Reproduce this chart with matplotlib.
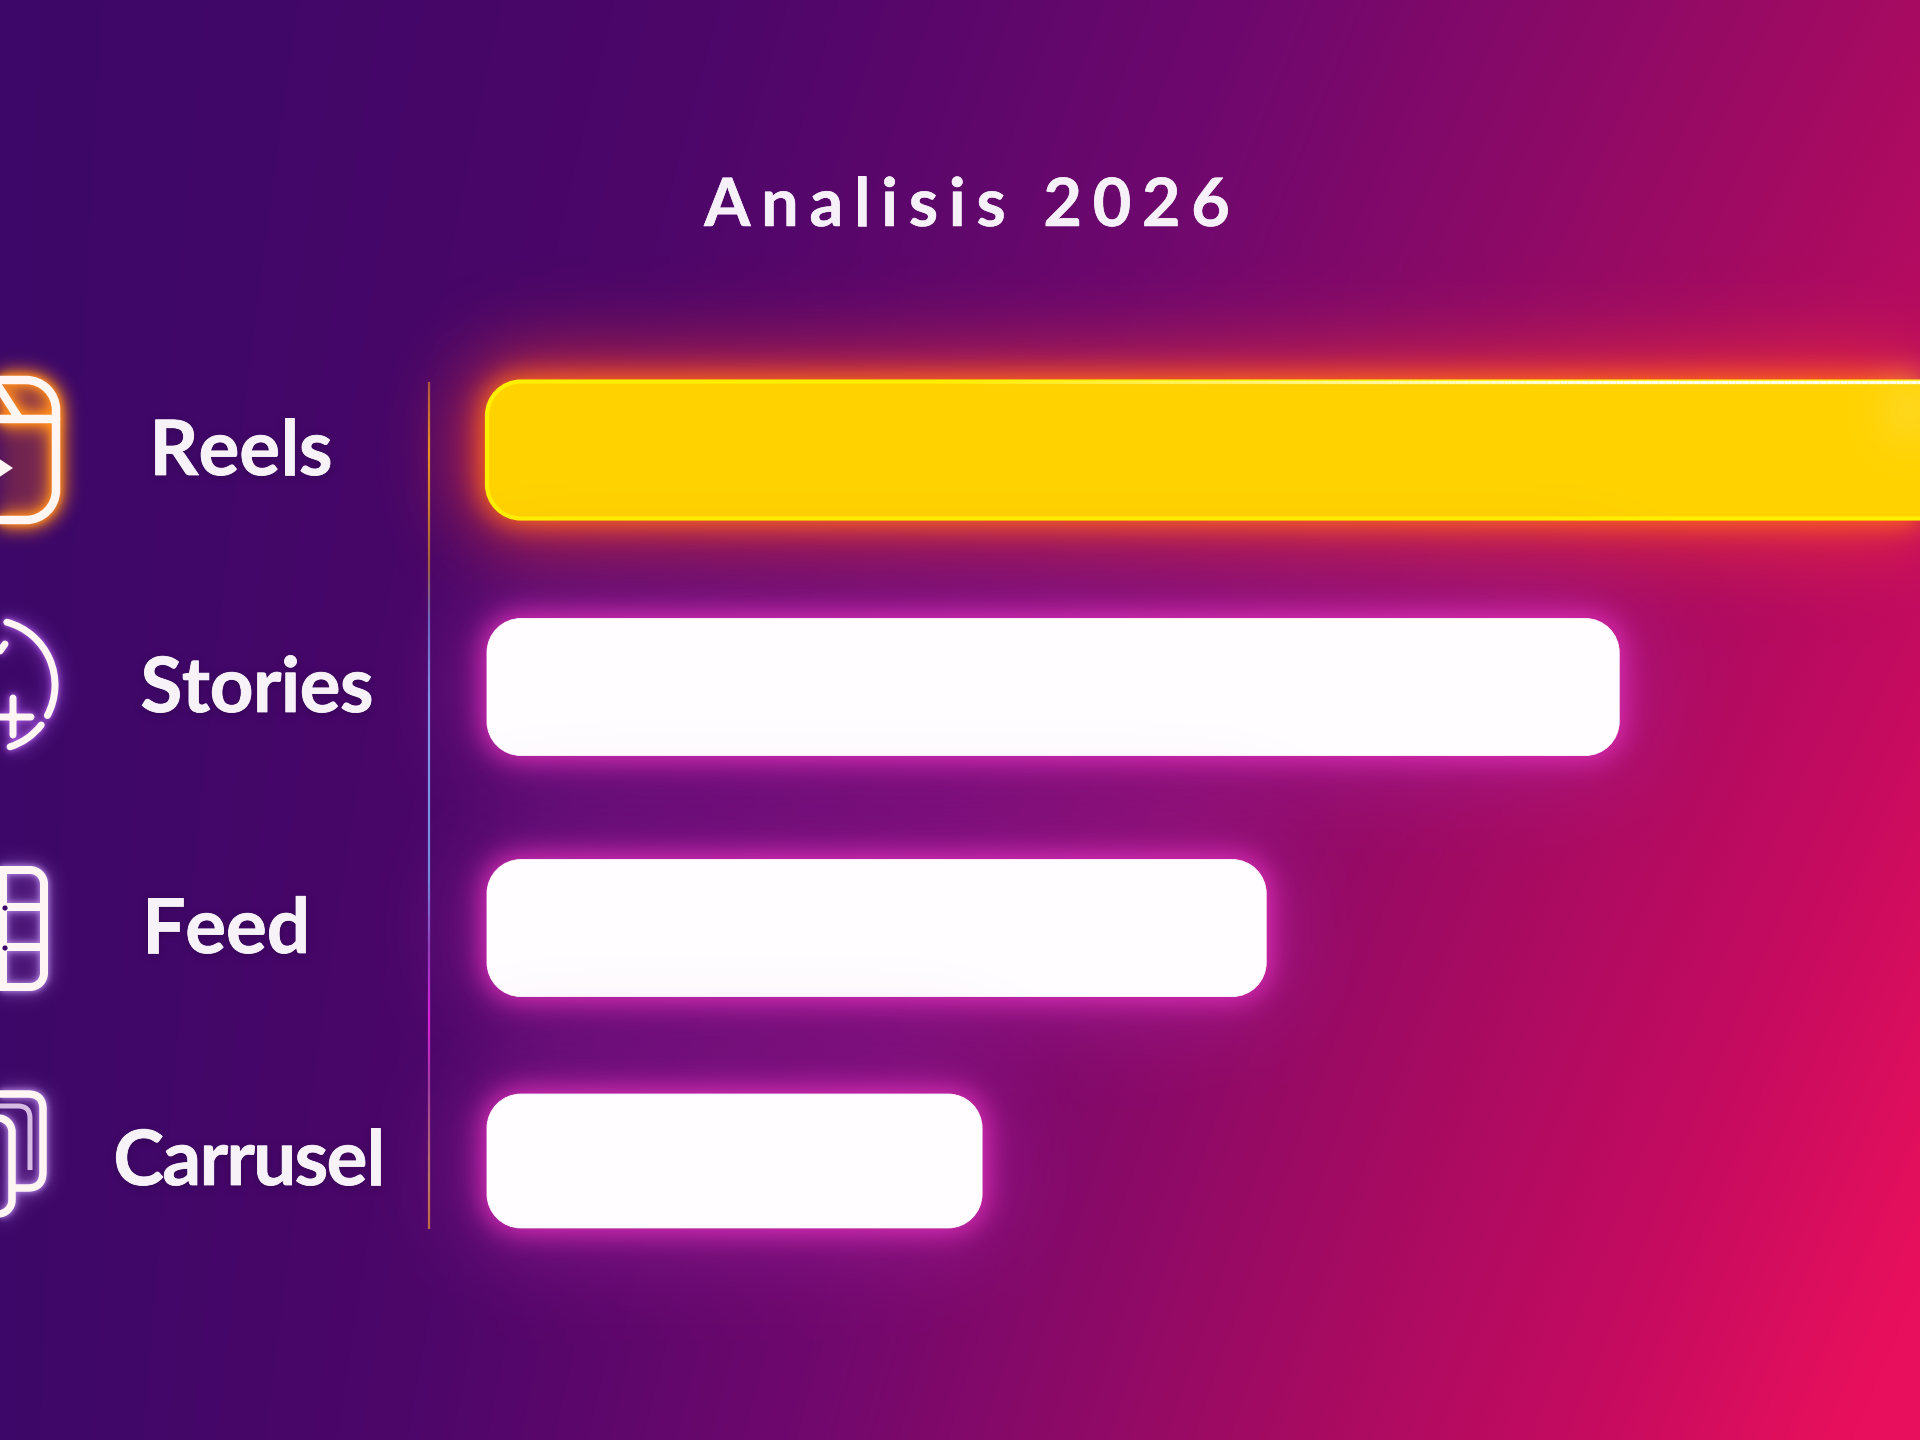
import numpy as np
import matplotlib
matplotlib.use("Agg")
import matplotlib.artist as martist
import matplotlib.pyplot as plt
from matplotlib.collections import LineCollection
from matplotlib.colors import LinearSegmentedColormap, to_rgb
from matplotlib.patches import Circle, Ellipse, FancyBboxPatch, PathPatch, Polygon
from matplotlib.path import Path
from matplotlib.patheffects import Normal, PathEffectRenderer, withStroke
from matplotlib.text import Text
from matplotlib.transforms import Affine2D

# Chart content
title_text = "Analisis 2026"
categories = ["Reels", "Stories", "Feed", "Carrusel"]
values = [105.0, 78.9, 54.3, 34.5]
rows = [0.0, 1.0, 2.017, 3.0]
bar_heights = [0.578, 0.578, 0.578, 0.565]

# Layout of the category labels (canvas pixels)
label_x = [241, 257, 226, 249]
label_base = [475, 712, 953, 1185]
label_tracking = [0.0, -0.5, 0.0, -1.6]

W, H = 1920, 1440
PX_PER_UNIT = 14.35
PX_PER_ROW = 237.0
ZERO_PX = 487.0
ROW0_PX = 450.0


def gaussian(a, sigma):
    fy = np.fft.fftfreq(a.shape[0])[:, None]
    fx = np.fft.rfftfreq(a.shape[1])
    g = np.exp(-2 * (np.pi * sigma) ** 2 * (fx ** 2 + fy ** 2))
    return np.fft.irfft2(np.fft.rfft2(a) * g, s=a.shape)


def glow(sigma, color, gain=1.0):
    rgb = to_rgb(color)

    def apply(img, dpi):
        pad = int(3 * sigma) + 2
        a = np.clip(gaussian(np.pad(img[..., 3], pad), sigma) * gain, 0, 1)
        out = np.zeros(a.shape + (4,))
        out[..., :3] = rgb
        out[..., 3] = a
        return out, -pad, -pad

    return apply


class TrackedText(Text):
    """A single text object drawn with extra space between its letters."""

    def __init__(self, *args, tracking=0.0, **kwargs):
        super().__init__(*args, **kwargs)
        self.tracking = tracking

    @martist.allow_rasterization
    def draw(self, renderer):
        if not self.get_visible():
            return
        s, fp = self.get_text(), self.get_fontproperties()
        effects = self.get_path_effects() or [Normal()]
        rr = PathEffectRenderer(effects, renderer)
        width = lambda chunk: renderer.get_text_width_height_descent(chunk, fp, False)[0]
        total = width(s) + self.tracking * (len(s) - 1)
        x0, y0 = self.get_transform().transform(self.get_position())
        start = x0 - total / 2
        gc = renderer.new_gc()
        gc.set_foreground(self.get_color())
        gc.set_alpha(self.get_alpha())
        gc.set_antialiased(True)
        for i, ch in enumerate(s):
            if ch != " ":
                xi = start + width(s[:i + 1]) - width(ch) + self.tracking * i
                rr.draw_text(gc, xi, renderer.height - y0, ch, fp, 0)
        gc.restore()
        self.stale = False


def round_box(r):
    """Box outline whose corners are true quarter circles of radius r."""
    k = 0.5523 * r

    def build(x0, y0, w, h, mutation_size=1.0):
        x1, y1 = x0 + w, y0 + h
        verts = [(x0 + r, y0), (x1 - r, y0),
                 (x1 - r + k, y0), (x1, y0 + r - k), (x1, y0 + r), (x1, y1 - r),
                 (x1, y1 - r + k), (x1 - r + k, y1), (x1 - r, y1), (x0 + r, y1),
                 (x0 + r - k, y1), (x0, y1 - r + k), (x0, y1 - r), (x0, y0 + r),
                 (x0, y0 + r - k), (x0 + r - k, y0), (x0 + r, y0), (x0 + r, y0)]
        codes = [Path.MOVETO, Path.LINETO] + [Path.CURVE4] * 3 + [Path.LINETO] \
            + [Path.CURVE4] * 3 + [Path.LINETO] + [Path.CURVE4] * 3 + [Path.LINETO] \
            + [Path.CURVE4] * 3 + [Path.CLOSEPOLY]
        return Path(verts, codes)

    return build


fig = plt.figure(figsize=(W / 100, H / 100), dpi=100)

# Canvas-pixel axes: background, icons, divider and labels
base = fig.add_axes([0, 0, 1, 1], zorder=1)
base.set_xlim(0, W)
base.set_ylim(H, 0)
base.axis("off")

# Diagonal purple-to-crimson backdrop
yy, xx = np.mgrid[0:H:360j, 0:W:480j]
u, v = xx / W, yy / H
t = np.clip(u ** (1.25 - 0.2 * v) * (0.68 + 0.34 * v) + 0.02, 0, 1)
backdrop = LinearSegmentedColormap.from_list(
    "backdrop",
    [(0.0, "#3b0868"), (0.22, "#4d0669"), (0.42, "#6f086e"),
     (0.68, "#a30b62"), (0.85, "#c40b60"), (1.0, "#e8105c")], N=1024,
)
base.imshow(backdrop(t), extent=(0, W, H, 0), aspect="auto", zorder=0,
            interpolation="bicubic")

# Gradient divider between labels and bars
div_y = np.linspace(382, 1229, 300)
div_stops = [(382, "#a85a40"), (450, "#e8a020"), (560, "#a06040"),
             (620, "#6a6ac0"), (700, "#80a0f0"), (880, "#7090e0"),
             (950, "#9040c0"), (1020, "#e020e0"), (1090, "#a040a0"),
             (1180, "#c08060"), (1229, "#c07040")]
div_cmap = LinearSegmentedColormap.from_list(
    "divider", [((p - 382) / 847, c) for p, c in div_stops])
segs = np.stack([np.column_stack([np.full(299, 429.0), div_y[:-1]]),
                 np.column_stack([np.full(299, 429.0), div_y[1:]])], axis=1)
divider = LineCollection(segs, cmap=div_cmap, linewidths=1.6, zorder=3)
divider.set_array(np.linspace(0, 1, 299))
base.add_collection(divider)


# Icon geometry
def rrect(x0, y0, x1, y1, r):
    return round_box(r)(x0, y0, x1 - x0, y1 - y0)


def seg(*pts):
    codes = [Path.MOVETO] + [Path.LINETO] * (len(pts) - 1)
    return Path(pts, codes)


def arc(cx, cy, r, a0, a1):
    return Path.arc(a0, a1).transformed(Affine2D().scale(r).translate(cx, cy))


def icon(paths, halo, width=6.0, halo_gain=1.0):
    path = Path.make_compound_path(*paths)
    for sigma, gain, extra in ((9, halo_gain, 4), (3.0, 0.9, 2)):
        p = PathPatch(path, fill=False, ec="white", lw=(width + extra) / 1.389,
                      zorder=4, capstyle="round")
        p.set_agg_filter(glow(sigma, halo, gain))
        base.add_patch(p)
    base.add_patch(PathPatch(path, fill=False, ec="#fff6f4", lw=width / 1.389,
                             zorder=5, capstyle="round", joinstyle="round"))


# Reels: clapper with a warm glow filling its body
reels_body = PathPatch(rrect(-90, 384, 52, 516, 26), fc="#e8641e", ec="none", zorder=2)
reels_body.set_agg_filter(glow(10, "#e8641e", 0.32))
base.add_patch(reels_body)
icon([rrect(-90, 380, 56, 520, 30),
      seg((-90, 419), (56, 419)),
      seg((-2, 386), (18, 417))], "#ff8a1e", width=8.5, halo_gain=1.5)
base.add_patch(Polygon([(-20, 446), (13, 468), (-20, 490)], fc="#fff6f4",
                       ec="none", zorder=5))

# Stories: broken ring with a plus
icon([arc(-10, 685, 65, -75, 28),
      arc(-10, 685, 65, 38, 72),
      seg((-5, 717), (31, 717)),
      seg((13, 698), (13, 735)),
      seg((5, 644), (0, 651))], "#b060e8", width=7.0, halo_gain=0.55)

# Feed: grid of cells
icon([rrect(-60, 870, 44, 987, 14),
      seg((3, 870), (3, 987)),
      seg((-60, 907), (44, 907)),
      seg((-60, 947), (44, 947))], "#c090f0", width=8.0, halo_gain=0.5)
for dot_y in (908, 948):
    base.add_patch(Circle((5, dot_y), 2.6, fc="#3d0868", ec="none", zorder=6))

# Carrusel: stacked cards
icon([rrect(-60, 1118, 12, 1214, 14),
      Path([(-30, 1094), (28, 1094), (43, 1094), (43, 1109), (43, 1172),
            (43, 1188), (28, 1188), (14, 1188)],
           [Path.MOVETO, Path.LINETO, Path.CURVE3, Path.CURVE3, Path.LINETO,
            Path.CURVE3, Path.CURVE3, Path.LINETO])],
     "#c090f0", width=7.5, halo_gain=0.5)
soft = PathPatch(Path([(-10, 1106), (18, 1106), (30, 1106), (30, 1118), (30, 1170)],
                      [Path.MOVETO, Path.LINETO, Path.CURVE3, Path.CURVE3, Path.LINETO]),
                 fill=False, ec="#f0d8f8", lw=3.6, zorder=5, alpha=0.85)
base.add_patch(soft)

# Bars share one value axis that starts at the divider's right
ax = fig.add_axes([0, 0, 1, 1], zorder=2)
ax.patch.set_alpha(0)
ax.axis("off")
ax.set_xlim(-ZERO_PX / PX_PER_UNIT, (W - ZERO_PX) / PX_PER_UNIT)
ax.set_ylim((H - ROW0_PX) / PX_PER_ROW, -ROW0_PX / PX_PER_ROW)
ASPECT = (1 / PX_PER_ROW) / (1 / PX_PER_UNIT)
RADIUS = 34 / PX_PER_UNIT


def bar_shape(value, row, height, **kw):
    return FancyBboxPatch((0, row - height / 2), value, height,
                          boxstyle=round_box(RADIUS),
                          mutation_aspect=ASPECT, **kw)


for i, (value, row, height) in enumerate(zip(values, rows, bar_heights)):
    if i == 0:
        layers = [(42, "#ff3a30", 0.85, 24), (13, "#ff6a1a", 1.0, 9)]
        face, edge, lw = "#ffd200", "#fff000", 3.0
    else:
        layers = [(50, "#b028a8", 0.6, 20), (13, "#e030b8", 0.95, 8)]
        face, edge, lw = "#fffdff", "#fffdff", 0.6
    for sigma, color, gain, spread in layers:
        halo = bar_shape(value, row, height, fc=color, ec=color, lw=spread)
        halo.set_agg_filter(glow(sigma, color, gain))
        ax.add_patch(halo)
    ax.add_patch(bar_shape(value, row, height, fc=face, ec=edge, lw=lw))

# Hot highlight along the top of the leading bar, fading in towards the right
top_x = np.linspace(8, values[0], 200)
top_y = rows[0] - bar_heights[0] / 2
top_segs = np.stack([np.column_stack([top_x[:-1], np.full(199, top_y)]),
                     np.column_stack([top_x[1:], np.full(199, top_y)])], axis=1)
top_colors = np.ones((199, 4))
top_colors[:, 2] = 0.92
top_colors[:, 3] = np.clip(np.linspace(-0.5, 1.6, 199), 0, 1)
ax.add_collection(LineCollection(top_segs, colors=top_colors, linewidths=2.4))

# Pale flare where the leading bar meets the canvas edge
flare = Ellipse((1930, 410), 70, 60, fc="#fff2a0", ec="none", zorder=4,
                transform=base.transData)
flare.set_agg_filter(glow(24, "#fff2a0", 0.7))
ax.add_artist(flare)

# Text
shadow = glow(4, "#25003f", 0.5)
heft = [withStroke(linewidth=0.6, foreground="#f6f2f8")]
for name, x, y, track in zip(categories, label_x, label_base, label_tracking):
    t_sh = TrackedText(x, y + 2, name, tracking=track, transform=base.transData,
                       fontsize=55, fontfamily="Lato", fontweight="bold",
                       color="#25003f", zorder=5)
    t_sh.set_agg_filter(shadow)
    ax.add_artist(t_sh)
    ax.add_artist(TrackedText(x, y, name, tracking=track, transform=base.transData,
                              fontsize=55, fontfamily="Lato", fontweight="bold",
                              color="#f6f2f8", zorder=6, path_effects=heft))

ax.add_artist(TrackedText(967, 226, title_text, tracking=10.7, transform=base.transData,
                          fontsize=48, fontfamily="Lato", fontweight="bold",
                          color="#f6f0f8", zorder=6,
                          path_effects=[withStroke(linewidth=0.4, foreground="#f6f0f8")]))

fig.savefig("out.png", dpi=100)
